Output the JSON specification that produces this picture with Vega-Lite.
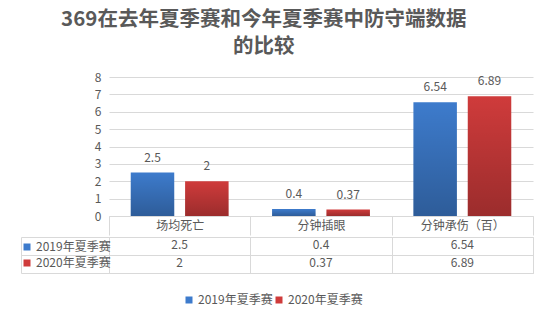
{
  "$schema": "https://vega.github.io/schema/vega-lite/v6.json",
  "background": "white",
  "padding": {"left": 20, "top": 9, "right": 10, "bottom": 5},
  "title": {
    "text": ["369在去年夏季赛和今年夏季赛中防守端数据", "的比较"],
    "anchor": "middle",
    "font": "Noto Sans CJK SC",
    "fontSize": 20.5,
    "fontWeight": "bold",
    "color": "#595959",
    "lineHeight": 27,
    "offset": 14,
    "dx": -13
  },
  "config": {
    "font": "Noto Sans CJK SC",
    "view": {"stroke": null},
    "axis": {
      "labelFont": "Noto Sans CJK SC",
      "labelFontSize": 12,
      "labelColor": "#595959",
      "domainColor": "#d9d9d9",
      "tickColor": "#d9d9d9",
      "gridColor": "#d9d9d9",
      "title": null
    },
    "legend": {
      "labelFont": "Noto Sans CJK SC",
      "labelFontSize": 12,
      "labelColor": "#595959",
      "title": null,
      "symbolType": "square",
      "symbolSize": 49,
      "symbolStrokeWidth": 0
    }
  },
  "data": {
    "values": [
      {"cat": "场均死亡", "series": "2019年夏季赛", "value": 2.5},
      {"cat": "场均死亡", "series": "2020年夏季赛", "value": 2},
      {"cat": "分钟插眼", "series": "2019年夏季赛", "value": 0.4},
      {"cat": "分钟插眼", "series": "2020年夏季赛", "value": 0.37},
      {"cat": "分钟承伤（百）", "series": "2019年夏季赛", "value": 6.54},
      {"cat": "分钟承伤（百）", "series": "2020年夏季赛", "value": 6.89}
    ]
  },
  "spacing": 0,
  "resolve": {
    "scale": {"color": "shared", "fill": "shared"},
    "legend": {"color": "shared", "fill": "shared"}
  },
  "vconcat": [
    {
      "width": 424,
      "height": 139,
      "encoding": {
        "x": {
          "field": "cat", "type": "nominal", "sort": null,
          "scale": {"paddingInner": 0, "paddingOuter": 0},
          "axis": {
            "orient": "bottom", "domain": true, "ticks": true, "tickBand": "extent",
            "tickSize": 19, "labelPadding": -10, "labelBaseline": "middle",
            "labelAngle": 0, "grid": false
          }
        },
        "xOffset": {
          "field": "series", "type": "nominal", "sort": null,
          "scale": {"paddingInner": 0.2, "paddingOuter": 0.4}
        },
        "y": {
          "field": "value", "type": "quantitative",
          "scale": {"domain": [0, 8], "nice": false},
          "axis": {
            "values": [0, 1, 2, 3, 4, 5, 6, 7, 8], "domain": false, "ticks": false,
            "grid": true, "labelPadding": 8
          }
        }
      },
      "layer": [
        {
          "mark": {"type": "bar"},
          "encoding": {
            "color": {
              "field": "series", "type": "nominal", "sort": null,
              "scale": {"range": ["#3d7bcc", "#cf3b3b"]},
              "legend": {
                "orient": "none", "legendX": 74, "legendY": 217,
                "direction": "horizontal", "columnPadding": 0, "labelOffset": 3
              }
            }
          }
        },
        {
          "mark": {
            "type": "bar",
            "color": {
              "gradient": "linear", "x1": 0, "y1": 0, "x2": 0, "y2": 1,
              "stops": [
                {"offset": 0, "color": "rgba(0,0,0,0)"},
                {"offset": 1, "color": "rgba(0,0,0,0.25)"}
              ]
            }
          }
        },
        {
          "mark": {"type": "text", "baseline": "bottom", "dy": -8, "fontSize": 12, "color": "#595959"},
          "encoding": {"text": {"field": "value", "type": "nominal"}}
        }
      ]
    },
    {
      "width": 424,
      "height": 36,
      "view": {"stroke": "#d9d9d9"},
      "encoding": {
        "x": {
          "field": "cat", "type": "nominal", "sort": null,
          "scale": {"paddingInner": 0, "paddingOuter": 0},
          "axis": {"labels": false, "domain": false, "ticks": false, "grid": true, "tickBand": "extent"}
        },
        "y": {
          "field": "series", "type": "nominal", "sort": null,
          "scale": {"paddingInner": 0, "paddingOuter": 0},
          "axis": {
            "labels": false, "domain": true, "ticks": true, "tickSize": -88,
            "offset": 88, "tickBand": "extent", "grid": true
          }
        }
      },
      "layer": [
        {
          "mark": {"type": "text", "fontSize": 12, "color": "#595959", "dy": -1.5},
          "encoding": {"text": {"field": "value", "type": "nominal"}}
        },
        {
          "mark": {"type": "text", "fontSize": 12},
          "encoding": {
            "text": {"value": ""},
            "fill": {
              "field": "series", "type": "nominal", "sort": null,
              "scale": {"range": ["#3d7bcc", "#cf3b3b"]},
              "legend": {
                "orient": "none", "legendX": -88, "legendY": 164,
                "direction": "vertical", "rowPadding": 4, "labelOffset": 3
              }
            }
          }
        }
      ]
    }
  ]
}
